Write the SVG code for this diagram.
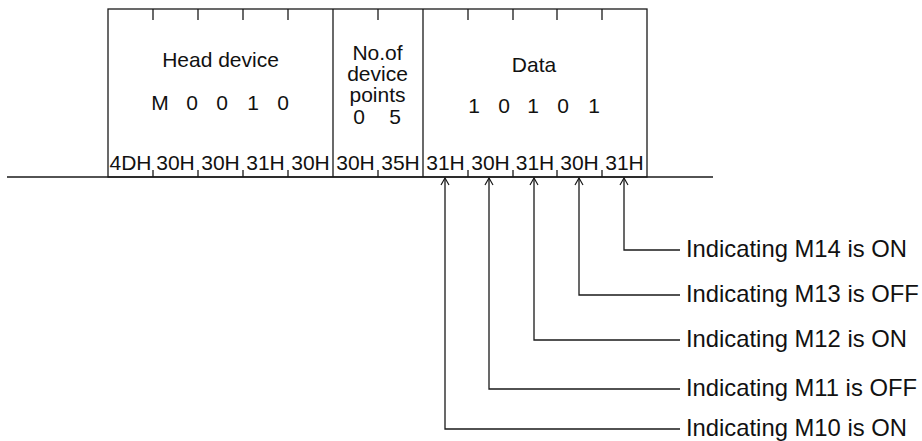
<svg xmlns="http://www.w3.org/2000/svg" width="922" height="441" viewBox="0 0 922 441">
<style>
  .ln{stroke:#1a1a1a;stroke-width:1.3;fill:none}
  .t{font-family:"Liberation Sans",Arial,Helvetica,sans-serif;fill:#111}
  .b{font-size:21px;text-anchor:middle}
  .lab{font-size:23.8px}
</style>
<defs>
  <marker id="ah" viewBox="0 0 10 10" refX="9" refY="5" markerWidth="10" markerHeight="10" markerUnits="userSpaceOnUse" orient="auto">
    <path d="M2,1 L9,5 L2,9" stroke="#1a1a1a" stroke-width="1.2" fill="none"/>
  </marker>
</defs>

<g id="frame">
  <rect x="108" y="9" width="539" height="168" class="ln"/>
  <line x1="7" y1="177" x2="713" y2="177" class="ln"/>
</g>

<g id="head-device">
  <line x1="153" y1="9" x2="153" y2="20" class="ln"/>
  <line x1="198" y1="9" x2="198" y2="20" class="ln"/>
  <line x1="243" y1="9" x2="243" y2="20" class="ln"/>
  <line x1="288" y1="9" x2="288" y2="20" class="ln"/>
  <line x1="153" y1="170" x2="153" y2="177" class="ln"/>
  <line x1="198" y1="170" x2="198" y2="177" class="ln"/>
  <line x1="243" y1="170" x2="243" y2="177" class="ln"/>
  <line x1="288" y1="170" x2="288" y2="177" class="ln"/>
  <text class="t b" x="220.5" y="67">Head device</text>
  <text class="t b" x="160" y="110">M</text>
  <text class="t b" x="192" y="110">0</text>
  <text class="t b" x="222" y="110">0</text>
  <text class="t b" x="253" y="110">1</text>
  <text class="t b" x="283" y="110">0</text>
  <text class="t b" x="130.5" y="170">4DH</text>
  <text class="t b" x="175.5" y="170">30H</text>
  <text class="t b" x="220.5" y="170">30H</text>
  <text class="t b" x="265.5" y="170">31H</text>
  <text class="t b" x="310.5" y="170">30H</text>
</g>

<g id="device-points">
  <line x1="333" y1="9" x2="333" y2="177" class="ln"/>
  <line x1="378" y1="9" x2="378" y2="20" class="ln"/>
  <line x1="378" y1="170" x2="378" y2="177" class="ln"/>
  <text class="t b" x="377.5" y="60">No.of</text>
  <text class="t b" x="377.5" y="81">device</text>
  <text class="t b" x="377.5" y="102">points</text>
  <text class="t b" x="359" y="124">0</text>
  <text class="t b" x="395" y="124">5</text>
  <text class="t b" x="355.5" y="170">30H</text>
  <text class="t b" x="400.5" y="170">35H</text>
</g>

<g id="data">
  <line x1="423" y1="9" x2="423" y2="177" class="ln"/>
  <line x1="468" y1="9" x2="468" y2="20" class="ln"/>
  <line x1="513" y1="9" x2="513" y2="20" class="ln"/>
  <line x1="557" y1="9" x2="557" y2="20" class="ln"/>
  <line x1="602" y1="9" x2="602" y2="20" class="ln"/>
  <line x1="468" y1="170" x2="468" y2="177" class="ln"/>
  <line x1="513" y1="170" x2="513" y2="177" class="ln"/>
  <line x1="557" y1="170" x2="557" y2="177" class="ln"/>
  <line x1="602" y1="170" x2="602" y2="177" class="ln"/>
  <text class="t b" x="534" y="72">Data</text>
  <text class="t b" x="474" y="113">1</text>
  <text class="t b" x="504" y="113">0</text>
  <text class="t b" x="533" y="113">1</text>
  <text class="t b" x="563" y="113">0</text>
  <text class="t b" x="594" y="113">1</text>
  <text class="t b" x="445.5" y="170">31H</text>
  <text class="t b" x="490.5" y="170">30H</text>
  <text class="t b" x="535" y="170">31H</text>
  <text class="t b" x="579.5" y="170">30H</text>
  <text class="t b" x="624.5" y="170">31H</text>
</g>

<g id="connectors">
  <path d="M680,250 H624 V178" class="ln" marker-end="url(#ah)"/>
  <path d="M680,295 H579 V178" class="ln" marker-end="url(#ah)"/>
  <path d="M680,340 H534 V178" class="ln" marker-end="url(#ah)"/>
  <path d="M680,389 H489 V178" class="ln" marker-end="url(#ah)"/>
  <path d="M680,429 H445 V178" class="ln" marker-end="url(#ah)"/>
</g>

<g id="label-m14"><text class="t lab" x="686" y="257">Indicating M14 is ON</text></g>
<g id="label-m13"><text class="t lab" x="686" y="302">Indicating M13 is OFF</text></g>
<g id="label-m12"><text class="t lab" x="686" y="347">Indicating M12 is ON</text></g>
<g id="label-m11"><text class="t lab" x="686" y="396">Indicating M11 is OFF</text></g>
<g id="label-m10"><text class="t lab" x="686" y="436">Indicating M10 is ON</text></g>
</svg>
